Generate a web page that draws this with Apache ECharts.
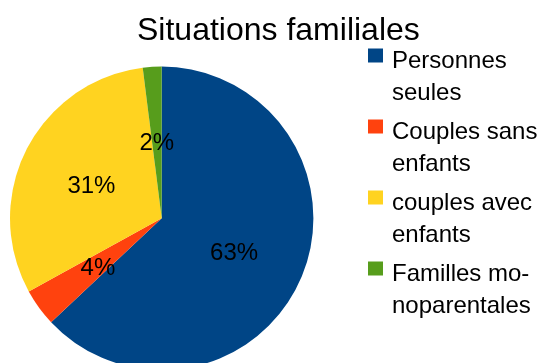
<!DOCTYPE html>
<html>
<head>
<meta charset="utf-8">
<script src="https://cdn.jsdelivr.net/npm/echarts@6/dist/echarts.min.js"></script>
<style>
  html, body { margin: 0; padding: 0; background: #ffffff; }
  #chart { width: 549px; height: 363px; }
</style>
</head>
<body>
<div id="chart"></div>
<script>
// Household types and their shares (percent)
const categories = ['Personnes seules', 'Couples sans enfants', 'couples avec enfants', 'Familles monoparentales'];
const legendLines = [['Personnes', 'seules'], ['Couples sans', 'enfants'], ['couples avec', 'enfants'], ['Familles mo-', 'noparentales']];
const shares = [63, 4, 31, 2];
const colors = ['#004586', '#ff420e', '#ffd320', '#579d1c'];

const FONT = '"Liberation Sans", Arial, sans-serif';

const chart = echarts.init(document.getElementById('chart'), null, { renderer: 'canvas' });

chart.setOption({
  backgroundColor: '#ffffff',
  animation: false,
  color: colors,
  title: {
    text: 'Situations familiales',
    left: 137,
    top: 15,
    padding: 0,
    textStyle: { fontFamily: FONT, fontSize: 32, fontWeight: 'normal', color: '#000000' }
  },
  legend: {
    orient: 'vertical',
    left: 368,
    top: 23,
    padding: 0,
    itemWidth: 15,
    itemHeight: 14,
    itemGap: -11,
    icon: 'rect',
    selectedMode: false,
    data: categories,
    // a spacer line on top drops the two-line text so its first line sits beside the swatch
    formatter: function (name) {
      const lines = legendLines[categories.indexOf(name)];
      return '{g| }\n{t|' + lines[0] + '}\n{t|' + lines[1] + '}';
    },
    textStyle: {
      fontFamily: FONT,
      fontSize: 24,
      color: '#000000',
      padding: [0, 0, 0, 4],
      rich: {
        g: { fontSize: 1, lineHeight: 43 },
        t: { fontFamily: FONT, fontSize: 24, lineHeight: 32, color: '#000000' }
      }
    }
  },
  series: [{
    type: 'pie',
    center: [161.7, 218.3],
    radius: [0, 151.7],
    startAngle: 90,
    clockwise: true,
    avoidLabelOverlap: false,
    itemStyle: { borderWidth: 0 },
    label: {
      show: true,
      position: 'inside',
      formatter: '{c}%',
      fontFamily: FONT,
      fontSize: 24,
      color: '#000000',
      offset: [0, 4]
    },
    labelLine: { show: false },
    emphasis: { disabled: true },
    data: categories.map(function (name, i) {
      return { name: name, value: shares[i] };
    })
  }]
});
</script>
</body>
</html>
